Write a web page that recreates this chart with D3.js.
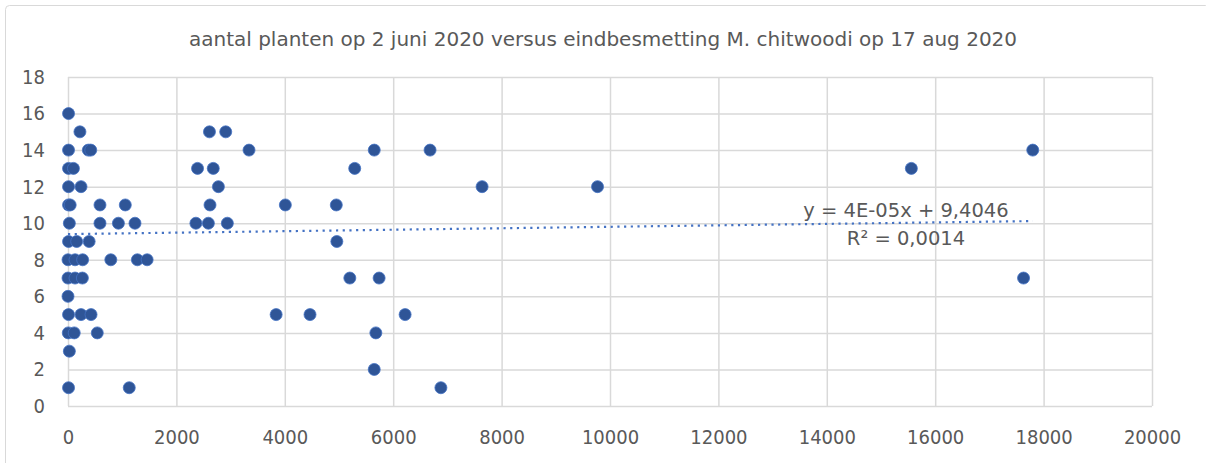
<!DOCTYPE html>
<html>
<head>
<meta charset="utf-8">
<script src="https://cdn.jsdelivr.net/npm/d3@7"></script>
<style>
  html, body { margin: 0; padding: 0; background: #fff; }
  svg { display: block; }
  text { font-family: "DejaVu Sans Condensed", "DejaVu Sans", sans-serif; fill: #595959; }
  text.wide { font-family: "DejaVu Sans", sans-serif; }
</style>
</head>
<body>
<script>
// Plants counted on 2 June 2020 (y) against final M. chitwoodi infestation on 17 Aug 2020 (x)
const infestation = [
  10, 220, 10, 375, 420, 10, 100, 10, 240,
  10, 40, 590, 1057, 25, 590, 930, 1236,
  10, 160, 390, 0, 130, 270, 790, 1280, 1460,
  0, 130, 265, 0, 10, 240, 425, 5, 115, 540, 25, 10, 1130,
  2610, 2910, 3340, 5650, 6680, 2390, 2680, 5290,
  2775, 7640, 9770, 2620, 4010, 4950, 2360, 2590, 2940,
  4960, 5200, 5740, 3840, 4465, 6220, 5680, 5650, 6880,
  15560, 17630, 17800
];
const plants = [
  16, 15, 14, 14, 14, 13, 13, 12, 12,
  11, 11, 11, 11, 10, 10, 10, 10,
  9, 9, 9, 8, 8, 8, 8, 8, 8,
  7, 7, 7, 6, 5, 5, 5, 4, 4, 4, 3, 1, 1,
  15, 15, 14, 14, 14, 13, 13, 13,
  12, 12, 12, 11, 11, 11, 10, 10, 10,
  9, 7, 7, 5, 5, 5, 4, 2, 1,
  13, 7, 14
];
const xTicks = [0, 2000, 4000, 6000, 8000, 10000, 12000, 14000, 16000, 18000, 20000];
const yTicks = [0, 2, 4, 6, 8, 10, 12, 14, 16, 18];
const trendSlope = 4e-5;
const trendIntercept = 9.4046;
const trendLabel = ["y = 4E-05x + 9,4046", "R² = 0,0014"];
const title = "aantal planten op 2 juni 2020 versus eindbesmetting M. chitwoodi op 17 aug 2020";

const W = 1206, H = 463;
const plot = { left: 68, right: 1152, top: 77, bottom: 406 };

const svg = d3.select("body").append("svg").attr("width", W).attr("height", H);

// chart frame
svg.append("rect")
  .attr("x", 5.5).attr("y", 5.5).attr("width", W - 2).attr("height", H + 10)
  .attr("rx", 4).attr("fill", "#fff").attr("stroke", "#d9d9d9").attr("stroke-width", 1);

const x = d3.scaleLinear().domain([0, 20000]).range([plot.left, plot.right]);
const y = d3.scaleLinear().domain([0, 18]).range([plot.bottom, plot.top]);

// x axis with vertical gridlines
const gx = svg.append("g")
  .attr("transform", `translate(0,${plot.bottom})`)
  .call(d3.axisBottom(x).tickValues(xTicks).tickFormat(d3.format("d"))
    .tickSize(-(plot.bottom - plot.top)).tickPadding(24));
gx.select(".domain").remove();
gx.selectAll("line").attr("stroke", "#d9d9d9").attr("stroke-width", 1.5);
gx.selectAll("text").attr("font-size", 20).style("fill", "#595959");

// y axis with horizontal gridlines
const gy = svg.append("g")
  .attr("transform", `translate(${plot.left},0)`)
  .call(d3.axisLeft(y).tickValues(yTicks).tickFormat(d3.format("d"))
    .tickSize(-(plot.right - plot.left)).tickPadding(23));
gy.select(".domain").remove();
gy.selectAll("line").attr("stroke", "#d9d9d9").attr("stroke-width", 1.5);
gy.selectAll("text").attr("font-size", 20).style("fill", "#595959");

// linear trendline over the data range
const xMin = d3.min(infestation), xMax = d3.max(infestation);
svg.append("line")
  .attr("x1", x(xMin)).attr("y1", y(trendIntercept + trendSlope * xMin))
  .attr("x2", x(xMax)).attr("y2", y(trendIntercept + trendSlope * xMax))
  .attr("stroke", "#4472c4").attr("stroke-width", 2.2)
  .attr("stroke-dasharray", "2.2,4.5");

// data points
svg.append("g").selectAll("circle")
  .data(d3.range(infestation.length))
  .join("circle")
  .attr("cx", i => x(infestation[i]))
  .attr("cy", i => y(plants[i]))
  .attr("r", 6)
  .attr("fill", "#2f5597")
  .attr("stroke", "#4472c4")
  .attr("stroke-width", 0.8);

// trendline equation
svg.append("g").selectAll("text")
  .data(trendLabel)
  .join("text")
  .attr("class", "wide")
  .attr("x", 906)
  .attr("y", (d, i) => 217 + i * 28)
  .attr("text-anchor", "middle")
  .attr("font-size", 19.5)
  .text(d => d);

// title
svg.append("text")
  .attr("class", "wide")
  .attr("x", 603).attr("y", 46)
  .attr("text-anchor", "middle")
  .attr("font-size", 20)
  .text(title);
</script>
</body>
</html>
